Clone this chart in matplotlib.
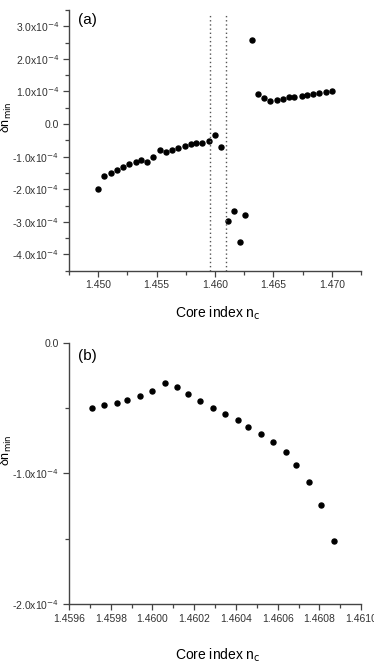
import numpy as np
import matplotlib.pyplot as plt
from matplotlib.ticker import MultipleLocator, FuncFormatter

plt.rcParams['font.family'] = ['Liberation Sans', 'DejaVu Sans']

# panel (a): full core index scan
nc_a = [1.4500, 1.4505, 1.4511, 1.4516, 1.4521, 1.4526, 1.4532, 1.4537, 1.4542, 1.4547,
        1.4553, 1.4558, 1.4563, 1.4568, 1.4574, 1.4579, 1.4584, 1.4589, 1.4595, 1.4600,
        1.4605, 1.4611, 1.4616, 1.4621, 1.4626, 1.4632, 1.4637, 1.4642, 1.4647, 1.4653,
        1.4658, 1.4663, 1.4668, 1.4674, 1.4679, 1.4684, 1.4689, 1.4695, 1.4700]
dn_a = [-1.98, -1.61, -1.51, -1.42, -1.32, -1.23, -1.18, -1.11, -1.18, -1.02,
        -0.79, -0.87, -0.81, -0.73, -0.66, -0.62, -0.59, -0.58, -0.53, -0.35,
        -0.69, -2.98, -2.66, -3.63, -2.80, 2.58, 0.93, 0.79, 0.71, 0.75,
        0.78, 0.82, 0.84, 0.86, 0.90, 0.93, 0.95, 0.98, 1.01]
dn_a = [v * 1e-4 for v in dn_a]
zoom_lines = [1.4596, 1.4609]

# panel (b): zoom between the dotted lines
nc_b = [1.45971, 1.45977, 1.45983, 1.45988, 1.45994, 1.46000, 1.46006, 1.46012,
        1.46017, 1.46023, 1.46029, 1.46035, 1.46041, 1.46046, 1.46052, 1.46058,
        1.46064, 1.46069, 1.46075, 1.46081, 1.46087]
dn_b = [-0.497, -0.479, -0.459, -0.438, -0.408, -0.370, -0.311, -0.337, -0.395,
        -0.446, -0.497, -0.546, -0.591, -0.645, -0.698, -0.762, -0.839, -0.936,
        -1.063, -1.242, -1.515]
dn_b = [v * 1e-4 for v in dn_b]


def sci_fmt(v, pos):
    if abs(v) < 1e-12:
        return '0.0'
    return r'%.1fx10$^{-4}$' % (v / 1e-4)


def style(ax):
    for s in ['top', 'right']:
        ax.spines[s].set_visible(False)
    for s in ['left', 'bottom']:
        ax.spines[s].set_color('#444444')
        ax.spines[s].set_linewidth(1.0)
    ax.tick_params(which='major', length=4, width=0.9, color='#444444',
                   labelsize=7.5, labelcolor='#333333', pad=3)
    ax.tick_params(which='minor', length=3, width=0.9, color='#444444')
    ax.yaxis.set_major_formatter(FuncFormatter(sci_fmt))


fig = plt.figure(figsize=(3.74, 6.69), dpi=100)

ax1 = fig.add_axes([0.1845, 0.5954, 0.781, 0.3897])
ax1.plot(nc_a, dn_a, 'o', color='black', ms=3.6)
for xl in zoom_lines:
    ax1.axvline(xl, ls=(0, (1, 2)), color='#555555', lw=1.0, ymax=0.99)
ax1.set_xlim(1.4475, 1.4725)
ax1.set_ylim(-4.5e-4, 3.5e-4)
ax1.xaxis.set_major_locator(MultipleLocator(0.005))
ax1.xaxis.set_minor_locator(MultipleLocator(0.0025))
ax1.yaxis.set_major_locator(MultipleLocator(1e-4))
ax1.yaxis.set_minor_locator(MultipleLocator(0.5e-4))
ax1.xaxis.set_major_formatter(FuncFormatter(lambda v, p: '%.3f' % v))
style(ax1)
ax1.text(0.03, 0.99, '(a)', transform=ax1.transAxes, fontsize=11, va='top')
ax1.set_xlabel('Core index n$_{\\rm c}$', fontsize=10)
ax1.xaxis.set_label_coords(0.51, -0.13)
ax1.set_ylabel('δn$_{\\rm min}$', fontsize=9)
ax1.yaxis.set_label_coords(-0.188, 0.59)

ax2 = fig.add_axes([0.1845, 0.0972, 0.781, 0.3906])
ax2.plot(nc_b, dn_b, 'o', color='black', ms=3.6)
ax2.set_xlim(1.4596, 1.4610)
ax2.set_ylim(-2e-4, 0)
ax2.xaxis.set_major_locator(MultipleLocator(0.0002))
ax2.xaxis.set_minor_locator(MultipleLocator(0.0001))
ax2.yaxis.set_major_locator(MultipleLocator(1e-4))
ax2.yaxis.set_minor_locator(MultipleLocator(0.5e-4))
ax2.xaxis.set_major_formatter(FuncFormatter(lambda v, p: '%.4f' % v))
style(ax2)
ax2.text(0.03, 0.975, '(b)', transform=ax2.transAxes, fontsize=11, va='top')
ax2.set_xlabel('Core index n$_{\\rm c}$', fontsize=10)
ax2.xaxis.set_label_coords(0.51, -0.165)
ax2.set_ylabel('δn$_{\\rm min}$', fontsize=9)
ax2.yaxis.set_label_coords(-0.188, 0.59)

plt.savefig('out.png', dpi=100)
